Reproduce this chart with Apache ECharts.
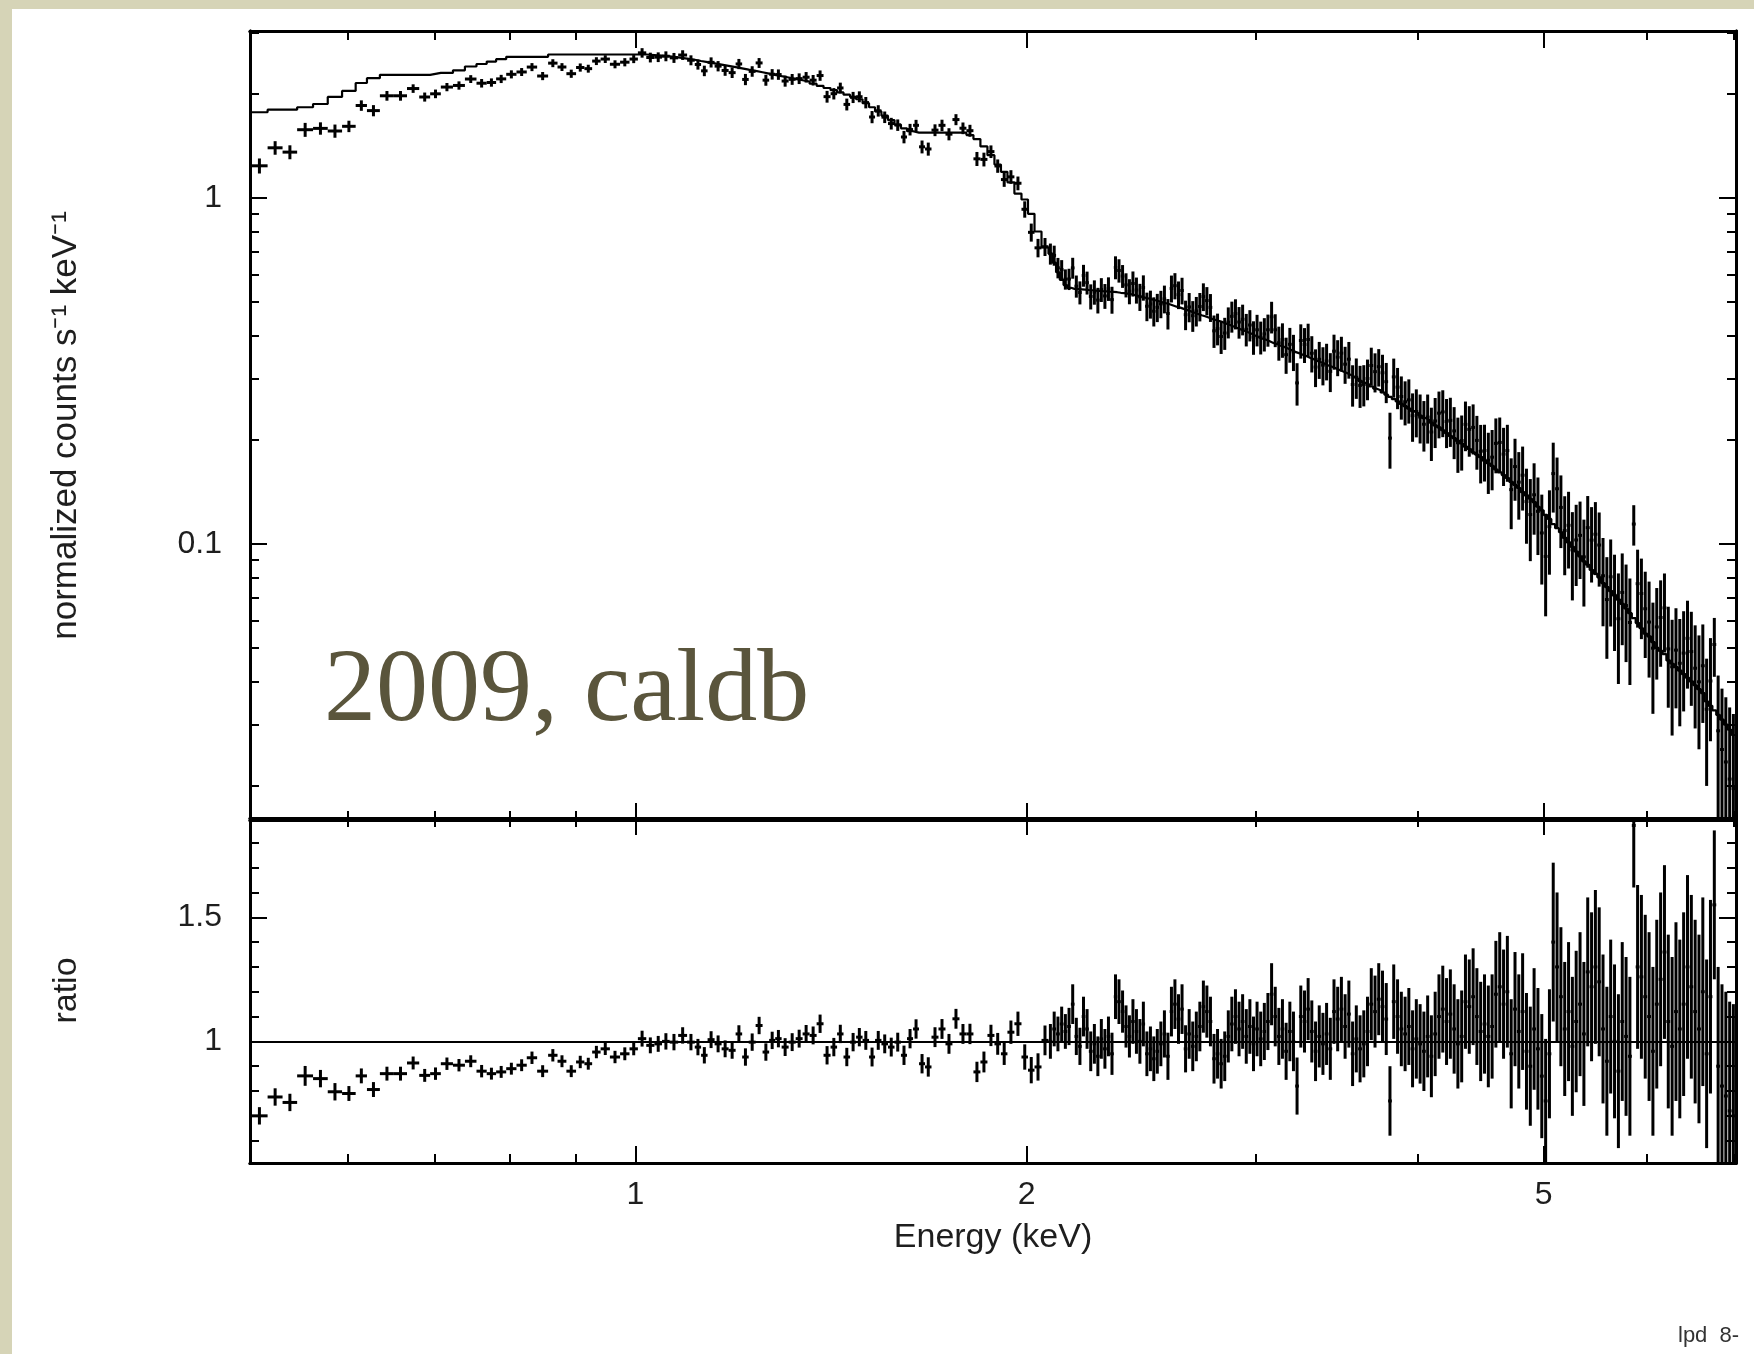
<!DOCTYPE html>
<html>
<head>
<meta charset="utf-8">
<script src="https://cdn.jsdelivr.net/npm/echarts@6.0.0/dist/echarts.min.js"></script>
<style>
html,body{margin:0;padding:0;background:#d6d4b7;}
#chart{width:1754px;height:1354px;}
</style>
</head>
<body>
<div id="chart"></div>
<script>
// ---------------- data ----------------
// bin edges (keV), soft part 0.5 - 2.08 keV
const edgesSoft = [0.506, 0.521, 0.535, 0.549, 0.5647, 0.5796, 0.5945, 0.609, 0.6213, 0.6357,
  0.6517, 0.667, 0.6816, 0.6949, 0.7082, 0.7236, 0.7391, 0.7544, 0.7682, 0.7811,
  0.7952, 0.8098, 0.8247, 0.84, 0.8565, 0.8709, 0.8847, 0.9, 0.9134, 0.926,
  0.94, 0.9556, 0.973, 0.9894, 1.0042, 1.0192, 1.034, 1.0481, 1.0625, 1.0785,
  1.0957, 1.1107, 1.1232, 1.1362, 1.1504, 1.1648, 1.1794, 1.1941, 1.208, 1.2221,
  1.2372, 1.2525, 1.2672, 1.2808, 1.2955, 1.3117, 1.3282, 1.3446, 1.3614, 1.3784,
  1.3954, 1.4129, 1.4293, 1.4457, 1.4626, 1.4783, 1.4953, 1.5126, 1.5288, 1.5462,
  1.5642, 1.5824, 1.6006, 1.6179, 1.6353, 1.6527, 1.6704, 1.6896, 1.7107, 1.732,
  1.7535, 1.7755, 1.7975, 1.82, 1.8426, 1.8657, 1.889, 1.9109, 1.933, 1.957,
  1.9817, 2.0047, 2.028, 2.0533, 2.0788];
// upper bin edges (keV), hard part 2.08 - 7.02 keV
const edgesHard = [2.093, 2.107, 2.121, 2.135, 2.149, 2.163, 2.177, 2.191, 2.205, 2.219,
  2.233, 2.248, 2.262, 2.276, 2.290, 2.305, 2.319, 2.334, 2.348, 2.363,
  2.378, 2.392, 2.407, 2.422, 2.437, 2.452, 2.467, 2.483, 2.498, 2.513,
  2.529, 2.545, 2.561, 2.577, 2.593, 2.609, 2.626, 2.642, 2.659, 2.676,
  2.693, 2.710, 2.727, 2.744, 2.761, 2.779, 2.796, 2.814, 2.832, 2.850,
  2.868, 2.886, 2.905, 2.923, 2.942, 2.961, 2.980, 2.999, 3.018, 3.038,
  3.057, 3.077, 3.097, 3.117, 3.137, 3.157, 3.178, 3.199, 3.219, 3.240,
  3.262, 3.283, 3.304, 3.326, 3.348, 3.370, 3.392, 3.414, 3.437, 3.459,
  3.482, 3.505, 3.528, 3.552, 3.575, 3.599, 3.623, 3.647, 3.671, 3.696,
  3.720, 3.745, 3.770, 3.795, 3.820, 3.846, 3.872, 3.898, 3.924, 3.950,
  3.976, 4.003, 4.030, 4.057, 4.084, 4.111, 4.139, 4.167, 4.195, 4.223,
  4.252, 4.280, 4.309, 4.338, 4.367, 4.397, 4.427, 4.456, 4.487, 4.517,
  4.548, 4.578, 4.609, 4.641, 4.672, 4.704, 4.736, 4.768, 4.800, 4.833,
  4.866, 4.899, 4.932, 4.966, 5.000, 5.034, 5.068, 5.102, 5.137, 5.172,
  5.207, 5.243, 5.278, 5.314, 5.351, 5.387, 5.424, 5.461, 5.498, 5.535,
  5.573, 5.611, 5.649, 5.688, 5.727, 5.766, 5.805, 5.845, 5.885, 5.925,
  5.965, 6.006, 6.047, 6.088, 6.130, 6.172, 6.214, 6.256, 6.299, 6.342,
  6.385, 6.429, 6.473, 6.517, 6.561, 6.606, 6.651, 6.696, 6.742, 6.788,
  6.834, 6.881, 6.928, 6.975, 7.020];

// folded model (normalized counts s^-1 keV^-1) per bin
const modelSoft = [1.77, 1.80, 1.80, 1.83, 1.87, 1.96, 2.04, 2.15, 2.22, 2.27,
  2.27, 2.27, 2.27, 2.30, 2.30, 2.34, 2.40, 2.44, 2.48, 2.52,
  2.56, 2.56, 2.56, 2.56, 2.60, 2.60, 2.60, 2.60, 2.60, 2.60,
  2.60, 2.60, 2.60, 2.60, 2.60, 2.59, 2.58, 2.57, 2.55, 2.53,
  2.51, 2.49, 2.47, 2.45, 2.43, 2.41, 2.39, 2.37, 2.35, 2.33,
  2.31, 2.29, 2.27, 2.25, 2.23, 2.21, 2.19, 2.17, 2.14, 2.11,
  2.08, 2.05, 2.02, 1.99, 1.96, 1.93, 1.88, 1.83, 1.78, 1.73,
  1.68, 1.63, 1.59, 1.56, 1.545, 1.545, 1.545, 1.545, 1.545, 1.545,
  1.545, 1.545, 1.52, 1.48, 1.41, 1.33, 1.25, 1.19, 1.11, 1.03,
  0.99, 0.90, 0.80, 0.72];
const modelHard = [0.69, 0.65, 0.61, 0.58, 0.56, 0.55, 0.546, 0.545, 0.544, 0.543,
  0.542, 0.541, 0.540, 0.539, 0.538, 0.537, 0.536, 0.535, 0.534, 0.532,
  0.531, 0.529, 0.527, 0.524, 0.521, 0.518, 0.515, 0.512, 0.509, 0.506,
  0.503, 0.499, 0.496, 0.493, 0.489, 0.485, 0.482, 0.478, 0.474, 0.470,
  0.466, 0.462, 0.458, 0.455, 0.451, 0.447, 0.444, 0.441, 0.437, 0.433,
  0.429, 0.425, 0.421, 0.417, 0.413, 0.409, 0.405, 0.400, 0.396, 0.392,
  0.389, 0.385, 0.381, 0.378, 0.374, 0.371, 0.367, 0.363, 0.359, 0.356,
  0.352, 0.349, 0.345, 0.342, 0.338, 0.335, 0.332, 0.328, 0.325, 0.322,
  0.318, 0.315, 0.312, 0.308, 0.304, 0.300, 0.296, 0.292, 0.289, 0.285,
  0.281, 0.278, 0.274, 0.270, 0.266, 0.262, 0.258, 0.254, 0.250, 0.246,
  0.242, 0.239, 0.235, 0.231, 0.228, 0.224, 0.220, 0.217, 0.213, 0.209,
  0.205, 0.202, 0.198, 0.195, 0.191, 0.188, 0.184, 0.181, 0.178, 0.174,
  0.171, 0.168, 0.164, 0.161, 0.158, 0.155, 0.151, 0.148, 0.145, 0.141,
  0.138, 0.135, 0.132, 0.128, 0.125, 0.121, 0.118, 0.114, 0.111, 0.108,
  0.104, 0.101, 0.098, 0.095, 0.092, 0.089, 0.087, 0.084, 0.082, 0.080,
  0.077, 0.075, 0.073, 0.071, 0.069, 0.067, 0.065, 0.063, 0.061, 0.059,
  0.057, 0.055, 0.054, 0.052, 0.050, 0.049, 0.048, 0.046, 0.045, 0.044,
  0.043, 0.042, 0.041, 0.040, 0.039, 0.038, 0.037, 0.035, 0.034, 0.033,
  0.032, 0.031, 0.030, 0.029, 0.028];

// data / model ratio per bin
const ratioSoft = [0.70, 0.776, 0.754, 0.861, 0.85, 0.797, 0.79, 0.861, 0.806, 0.87,
  0.87, 0.913, 0.863, 0.87, 0.91, 0.904, 0.92, 0.88, 0.87, 0.877,
  0.89, 0.904, 0.934, 0.88, 0.944, 0.92, 0.88, 0.917, 0.91, 0.957,
  0.97, 0.937, 0.95, 0.97, 1.011, 0.984, 0.99, 1.0, 0.997, 1.024,
  0.997, 0.977, 0.944, 1.007, 0.99, 0.97, 0.964, 1.03, 0.937, 0.997,
  1.064, 0.957, 1.004, 1.011, 0.977, 0.997, 1.011, 1.03, 1.024, 1.071,
  0.944, 0.977, 1.03, 0.937, 0.997, 1.017, 1.004, 0.937, 1.004, 0.99,
  0.977, 0.997, 0.944, 1.011, 1.05, 0.91, 0.897, 1.017, 1.05, 0.99,
  1.091, 1.03, 1.03, 0.877, 0.917, 1.024, 0.99, 0.95, 1.037, 1.071,
  0.937, 0.884, 0.897, 1.004];
const ratioHard = [1.00, 1.05, 1.03, 1.07, 1.04, 1.06, 1.15, 1.02, 0.98, 1.10,
  1.05, 0.96, 0.99, 0.94, 1.01, 0.97, 1.02, 0.95, 1.18, 1.16,
  1.12, 1.06, 1.02, 1.08, 1.04, 1.00, 1.07, 0.95, 0.97, 0.93,
  0.96, 0.99, 1.03, 0.94, 1.12, 1.15, 1.09, 1.13, 0.97, 1.03,
  0.98, 1.02, 1.06, 1.14, 1.12, 1.08, 0.93, 0.95, 0.91, 0.94,
  1.02, 1.07, 1.10, 1.05, 1.08, 1.02, 1.06, 0.99, 1.05, 1.01,
  1.04, 1.08, 1.19, 1.10, 1.02, 1.05, 0.96, 1.04, 1.00, 0.82,
  1.10, 1.08, 1.13, 1.04, 0.96, 1.02, 0.99, 1.03, 0.97, 1.12,
  1.09, 1.13, 1.06, 1.11, 0.95, 1.01, 0.97, 0.99, 1.04, 1.15,
  1.12, 1.17, 1.14, 1.09, 0.76, 1.16, 1.10, 1.05, 1.03, 1.06,
  0.97, 1.01, 0.99, 0.96, 1.02, 0.94, 1.03, 1.10, 1.13, 1.08,
  1.11, 1.05, 0.99, 1.02, 1.16, 1.14, 1.18, 1.10, 1.04, 1.07,
  1.02, 1.06, 1.19, 1.22, 1.15, 1.20, 0.95, 1.13, 1.04, 1.12,
  0.96, 0.90, 1.05, 0.97, 0.86, 0.76, 0.95, 1.40, 1.30, 1.18,
  1.05, 1.12, 0.98, 1.08, 1.15, 1.03, 1.28, 1.22, 1.30, 1.24,
  1.05, 0.92, 1.10, 1.00, 0.88, 1.08, 1.02, 0.94, 1.87, 1.30,
  1.26, 1.18, 1.10, 0.96, 1.15, 1.25, 1.36, 1.08, 0.98, 1.12,
  1.05, 1.15, 1.30, 1.22, 1.12, 1.05, 1.20, 0.95, 1.18, 1.55,
  0.90, 0.82, 0.78, 0.72, 0.70];

// 1-sigma error on the ratio per bin
const errSoft = [0.035, 0.035, 0.035, 0.04, 0.035, 0.035, 0.03, 0.03, 0.03, 0.028,
  0.028, 0.026, 0.026, 0.025, 0.025, 0.025, 0.024, 0.025, 0.024, 0.024,
  0.024, 0.024, 0.025, 0.024, 0.025, 0.024, 0.024, 0.025, 0.024, 0.025,
  0.025, 0.025, 0.026, 0.026, 0.032, 0.032, 0.032, 0.033, 0.033, 0.033,
  0.033, 0.033, 0.033, 0.034, 0.034, 0.034, 0.034, 0.035, 0.035, 0.035,
  0.035, 0.035, 0.035, 0.035, 0.036, 0.036, 0.036, 0.036, 0.036, 0.037,
  0.037, 0.037, 0.037, 0.037, 0.037, 0.037, 0.038, 0.038, 0.038, 0.038,
  0.038, 0.038, 0.039, 0.039, 0.039, 0.039, 0.039, 0.04, 0.04, 0.04,
  0.04, 0.04, 0.041, 0.041, 0.042, 0.043, 0.044, 0.045, 0.047, 0.049,
  0.051, 0.053, 0.055, 0.06];
const errHard = [0.07, 0.07, 0.07, 0.07, 0.07, 0.075, 0.08, 0.075, 0.075, 0.08,
  0.08, 0.08, 0.08, 0.08, 0.08, 0.08, 0.08, 0.085, 0.09, 0.09,
  0.085, 0.085, 0.085, 0.09, 0.09, 0.09, 0.09, 0.09, 0.09, 0.09,
  0.09, 0.09, 0.095, 0.095, 0.10, 0.10, 0.10, 0.10, 0.095, 0.10,
  0.10, 0.10, 0.10, 0.105, 0.105, 0.10, 0.10, 0.10, 0.10, 0.10,
  0.105, 0.11, 0.11, 0.11, 0.11, 0.11, 0.11, 0.11, 0.11, 0.11,
  0.115, 0.115, 0.125, 0.12, 0.115, 0.12, 0.115, 0.12, 0.12, 0.115,
  0.125, 0.125, 0.125, 0.125, 0.12, 0.125, 0.125, 0.125, 0.125, 0.13,
  0.13, 0.13, 0.13, 0.135, 0.13, 0.135, 0.135, 0.135, 0.14, 0.145,
  0.145, 0.145, 0.145, 0.145, 0.14, 0.15, 0.15, 0.15, 0.15, 0.155,
  0.155, 0.16, 0.16, 0.16, 0.165, 0.165, 0.17, 0.17, 0.175, 0.175,
  0.18, 0.18, 0.18, 0.185, 0.19, 0.19, 0.195, 0.195, 0.20, 0.20,
  0.205, 0.21, 0.215, 0.22, 0.22, 0.225, 0.22, 0.23, 0.23, 0.235,
  0.235, 0.24, 0.245, 0.245, 0.25, 0.25, 0.26, 0.32, 0.30, 0.28,
  0.27, 0.28, 0.28, 0.285, 0.29, 0.29, 0.30, 0.30, 0.31, 0.30,
  0.30, 0.30, 0.31, 0.31, 0.31, 0.32, 0.32, 0.32, 0.25, 0.33,
  0.33, 0.33, 0.34, 0.34, 0.34, 0.35, 0.35, 0.35, 0.36, 0.36,
  0.36, 0.37, 0.37, 0.37, 0.37, 0.38, 0.38, 0.38, 0.39, 0.30,
  0.40, 0.41, 0.42, 0.44, 0.45];

// axis ranges and ticks
const X_MIN = 0.505, X_MAX = 7.03;
const Y_MIN = 0.0159, Y_MAX = 3.04;
const R_MIN = 0.51, R_MAX = 1.9;
const xMajorTicks = [1, 2, 5];
const xMinorTicks = [0.6, 0.7, 0.8, 0.9, 3, 4, 6, 7];
const yMajorTicks = [0.1, 1];
const yMinorTicks = [0.02, 0.03, 0.04, 0.05, 0.06, 0.07, 0.08, 0.09,
  0.2, 0.3, 0.4, 0.5, 0.6, 0.7, 0.8, 0.9, 2, 3];
const rMajorTicks = [1, 1.5];
const rMinorTicks = [0.6, 0.7, 0.8, 0.9, 1.1, 1.2, 1.3, 1.4, 1.6, 1.7, 1.8];

// ---------------- build series data ----------------
const edges = edgesSoft.concat(edgesHard);
const model = modelSoft.concat(modelHard);
const ratio = ratioSoft.concat(ratioHard);
const ratioErr = errSoft.concat(errHard);
const nBins = model.length;

const spectrumData = [];
const ratioData = [];
const modelData = [];
for (let i = 0; i < nBins; i++) {
  const lo = edges[i], hi = edges[i + 1], m = model[i], r = ratio[i], e = ratioErr[i];
  spectrumData.push([lo, hi, r * m, Math.max((r - e) * m, 1e-4), (r + e) * m]);
  ratioData.push([lo, hi, r, r - e, r + e]);
  modelData.push([lo, m]);
}
modelData.push([edges[nBins], model[nBins - 1]]);

// ---------------- styling ----------------
const FONT = 'Liberation Sans';
const INK = '#1e1e1e';
const FRAME = { show: true, onZero: false, lineStyle: { color: '#000', width: 3 } };
const MAJ = 17, MIN = 9;

function tick(values, len) {
  return { show: true, inside: true, length: len, customValues: values,
           lineStyle: { color: '#000', width: 2 } };
}
function axis(kind, grid, pos, vals, len, extra) {
  const base = {
    gridIndex: grid, position: pos,
    type: kind === 'r' ? 'value' : 'log',
    min: kind === 'x' ? X_MIN : (kind === 'ylog' ? Y_MIN : R_MIN),
    max: kind === 'x' ? X_MAX : (kind === 'ylog' ? Y_MAX : R_MAX),
    axisLine: FRAME,
    axisTick: tick(vals, len),
    axisLabel: { show: false },
    splitLine: { show: false },
    minorTick: { show: false },
    silent: true
  };
  if (kind !== 'r') base.logBase = 10;
  return Object.assign(base, extra || {});
}
const labelStyle = (vals, margin) => ({
  show: true, customValues: vals, margin: margin,
  fontFamily: FONT, fontSize: 32, color: INK
});
const nameStyle = { fontFamily: FONT, fontSize: 34, color: INK };

const xAxes = [
  axis('x', 0, 'bottom', xMajorTicks, MAJ),
  axis('x', 0, 'bottom', xMinorTicks, MIN),
  axis('x', 0, 'top', xMajorTicks, MAJ),
  axis('x', 0, 'top', xMinorTicks, MIN),
  axis('x', 1, 'bottom', xMajorTicks, MAJ, {
    axisLabel: labelStyle(xMajorTicks, 16),
    name: 'Energy (keV)', nameLocation: 'middle', nameGap: 58,
    nameTextStyle: Object.assign({}, nameStyle, { fontSize: 34 })
  }),
  axis('x', 1, 'bottom', xMinorTicks, MIN),
  axis('x', 1, 'top', xMajorTicks, MAJ),
  axis('x', 1, 'top', xMinorTicks, MIN)
];
const yAxes = [
  axis('ylog', 0, 'left', yMajorTicks, MAJ, {
    axisLabel: labelStyle(yMajorTicks, 28),
    name: 'normalized counts s\u207B\u00B9 keV\u207B\u00B9', nameLocation: 'middle',
    nameRotate: 90, nameGap: 166, nameTextStyle: Object.assign({}, nameStyle, { fontSize: 35 })
  }),
  axis('ylog', 0, 'left', yMinorTicks, MIN),
  axis('ylog', 0, 'right', yMajorTicks, MAJ),
  axis('ylog', 0, 'right', yMinorTicks, MIN),
  axis('r', 1, 'left', rMajorTicks, MAJ, {
    axisLabel: labelStyle(rMajorTicks, 28),
    name: 'ratio', nameLocation: 'middle', nameRotate: 90, nameGap: 166,
    nameTextStyle: nameStyle
  }),
  axis('r', 1, 'left', rMinorTicks, MIN),
  axis('r', 1, 'right', rMajorTicks, MAJ),
  axis('r', 1, 'right', rMinorTicks, MIN)
];

function crossRenderer(params, api) {
  const lo = api.value(0), hi = api.value(1), y = api.value(2);
  const ylo = api.value(3), yhi = api.value(4);
  const mid = (lo + hi) / 2;
  const a = api.coord([lo, y]), b = api.coord([hi, y]);
  const c = api.coord([mid, ylo]), d = api.coord([mid, yhi]);
  const st = { stroke: '#000', lineWidth: 3, fill: null };
  return {
    type: 'group',
    children: [
      { type: 'line', shape: { x1: a[0], y1: a[1], x2: b[0], y2: b[1] }, style: st },
      { type: 'line', shape: { x1: c[0], y1: c[1], x2: d[0], y2: d[1] }, style: st }
    ]
  };
}

const chart = echarts.init(document.getElementById('chart'), null, { renderer: 'canvas' });
chart.setOption({
  animation: false,
  backgroundColor: '#d6d4b7',
  graphic: [
    { type: 'rect', z: -10, silent: true,
      shape: { x: 12, y: 9, width: 1742, height: 1345 },
      style: { fill: '#ffffff' } },
    { type: 'text', z: 10, silent: true, left: 324, top: 641,
      style: { text: '2009, caldb', font: '104px "Liberation Serif", "DejaVu Serif", serif',
               fill: '#5a553c' } },
    { type: 'text', z: 10, silent: true, left: 1678, top: 1325,
      style: { text: 'lpd  8-', font: '22px "Liberation Sans", sans-serif', fill: '#333' } }
  ],
  grid: [
    { left: 250, right: 18, top: 31, bottom: 534, outerBoundsMode: 'none', containLabel: false },
    { left: 250, right: 18, top: 818, bottom: 191, outerBoundsMode: 'none', containLabel: false }
  ],
  xAxis: xAxes,
  yAxis: yAxes,
  series: [
    {
      name: 'model', type: 'line', xAxisIndex: 0, yAxisIndex: 0,
      data: modelData, step: 'end', showSymbol: false, symbol: 'none',
      lineStyle: { color: '#000', width: 2.2 }, clip: true, silent: true, z: 3
    },
    {
      name: 'data', type: 'custom', xAxisIndex: 0, yAxisIndex: 0,
      data: spectrumData, renderItem: crossRenderer, clip: true, silent: true,
      encode: { x: [0, 1], y: [2, 3, 4] }, z: 4
    },
    {
      name: 'ratio', type: 'custom', xAxisIndex: 4, yAxisIndex: 4,
      data: ratioData, renderItem: crossRenderer, clip: true, silent: true,
      encode: { x: [0, 1], y: [2, 3, 4] }, z: 4,
      markLine: {
        silent: true, symbol: ['none', 'none'], label: { show: false },
        lineStyle: { color: '#000', width: 2.2, type: 'solid' },
        data: [{ yAxis: 1 }], animation: false
      }
    }
  ]
});
</script>
</body>
</html>
